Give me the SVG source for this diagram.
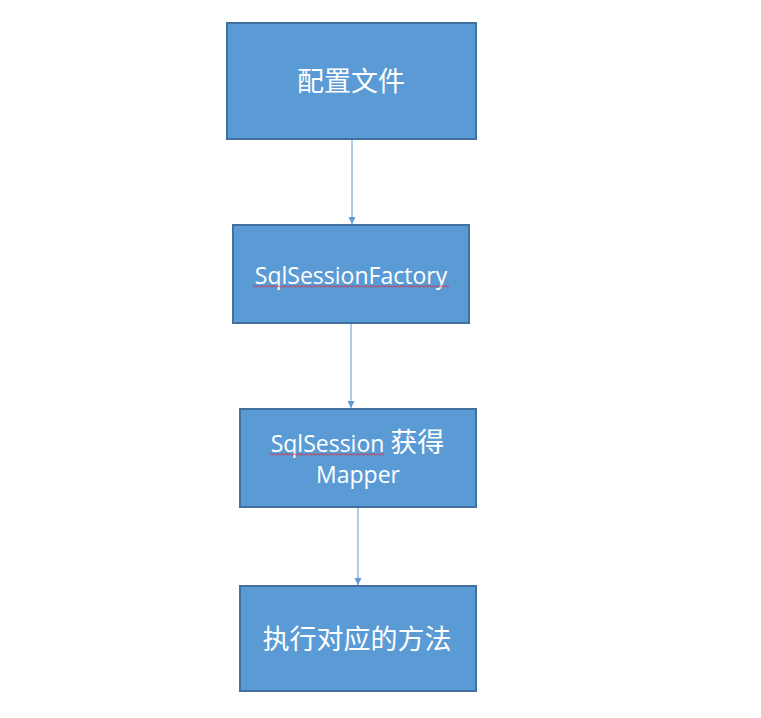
<svg xmlns="http://www.w3.org/2000/svg" width="761" height="718" viewBox="0 0 761 718">
<style>
.box{fill:#5B9BD5;stroke:#41719C;stroke-width:2}
.cjk{font-family:"Noto Sans CJK SC","Noto Sans",sans-serif;font-size:27px;fill:#fff;text-anchor:middle}
.lat{font-family:"Open Sans","Noto Sans","Noto Sans CJK SC",sans-serif;font-size:23px;fill:#fff;text-anchor:middle}
.zh{font-family:"Noto Sans CJK SC",sans-serif;font-size:27px}
.conn{stroke:#5B9BD5;stroke-width:1;fill:none}
</style>
<defs>
<marker id="arr" markerUnits="userSpaceOnUse" markerWidth="8" markerHeight="8" refX="7" refY="4" orient="auto">
<path d="M0,0.5 L7,4 L0,7.5 Z" fill="#5B9BD5"/>
</marker>
<pattern id="sq" width="4" height="3" patternUnits="userSpaceOnUse">
<path d="M0,2.5 L2,0.5 L4,2.5" stroke="#E3262A" stroke-width="1" fill="none"/>
</pattern>
</defs>
<rect width="761" height="718" fill="#fff"/>
<g id="connectors">
<line class="conn" x1="352" y1="140" x2="352" y2="224" marker-end="url(#arr)"/>
<line class="conn" x1="351" y1="324" x2="351" y2="408" marker-end="url(#arr)"/>
<line class="conn" x1="358" y1="508" x2="358" y2="585" marker-end="url(#arr)"/>
</g>
<g id="node1">
<rect class="box" x="227" y="23" width="249" height="116"/>
<text class="cjk" x="351" y="91">配置文件</text>
</g>
<g id="node2">
<rect class="box" x="233" y="225" width="236" height="98"/>
<text class="lat" x="351" y="284">SqlSessionFactory</text>
<rect x="253" y="285" width="196" height="3" fill="url(#sq)"/>
</g>
<g id="node3">
<rect class="box" x="240" y="409" width="236" height="98"/>
<text class="lat" x="357.5" y="452">SqlSession <tspan class="zh">获得</tspan></text>
<text class="lat" x="358" y="483">Mapper</text>
<rect x="270" y="453" width="114" height="3" fill="url(#sq)"/>
</g>
<g id="node4">
<rect class="box" x="240" y="586" width="236" height="105"/>
<text class="cjk" x="357" y="649">执行对应的方法</text>
</g>
</svg>
